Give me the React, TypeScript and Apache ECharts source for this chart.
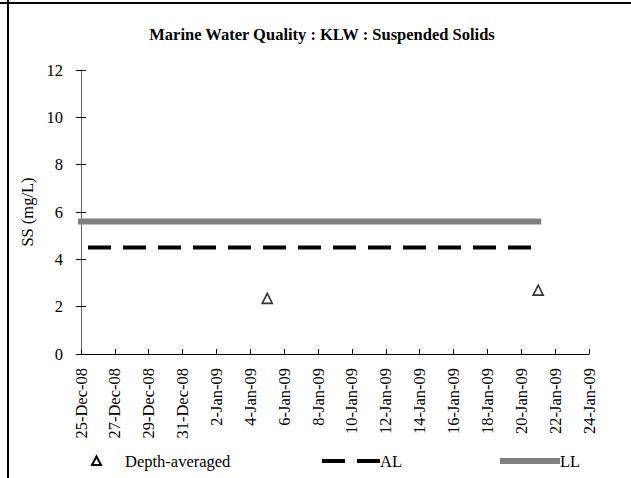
import React, { useEffect, useRef } from "react";
import * as echarts from "echarts";

const DAY = 86400000;
const titleText = "Marine Water Quality : KLW : Suspended Solids";
const yAxisName = "SS (mg/L)";
const seriesNames = ["Depth-averaged", "AL", "LL"];
const sampleDates = ["2009-01-05", "2009-01-21"];
const depthAveraged = [2.35, 2.7];
const limitDates = ["2008-12-25", "2009-01-21"];
const alValues = [4.5, 4.5];
const llValues = [5.6, 5.6];
const xStart = "2008-12-25";
const xEnd = "2009-01-24";
const yMin = 0;
const yMax = 12;
const yStep = 2;
const months = ["Jan", "Feb", "Mar", "Apr", "May", "Jun", "Jul", "Aug", "Sep", "Oct", "Nov", "Dec"];

const toMs = (s: string) => {
  const [y, m, d] = s.split("-").map(Number);
  return Date.UTC(y, m - 1, d);
};
const fmtDate = (v: number) => {
  const d = new Date(v);
  return `${d.getUTCDate()}-${months[d.getUTCMonth()]}-${String(d.getUTCFullYear() % 100).padStart(2, "0")}`;
};

const FONT = "Liberation Serif";
const FS = 16.5;

export default function App() {
  const ref = useRef<HTMLDivElement>(null);
  useEffect(() => {
    if (!ref.current) return;
    const chart = echarts.init(ref.current, null, { renderer: "svg" });
    const legendY = 461;
    const option: any = {
      animation: false,
      backgroundColor: "#fff",
      title: {
        text: titleText,
        left: 317,
        textAlign: "center",
        top: 21,
        textStyle: { fontFamily: FONT, fontSize: 16.5, fontWeight: "bold", color: "#000" },
      },
      grid: { left: 81, right: 42, top: 70, bottom: 124 },
      xAxis: {
        type: "value",
        min: toMs(xStart),
        max: toMs(xEnd),
        interval: 2 * DAY,
        splitLine: { show: false },
        axisLine: { lineStyle: { color: "#000", width: 1 } },
        axisTick: { inside: true, length: 5, lineStyle: { color: "#000" } },
        axisLabel: {
          rotate: 90,
          margin: 14,
          fontFamily: FONT,
          fontSize: FS,
          color: "#000",
          formatter: (v: number) => fmtDate(v),
        },
      },
      yAxis: [
        {
          type: "value",
          min: yMin,
          max: yMax,
          interval: yStep,
          name: yAxisName,
          nameLocation: "middle",
          nameGap: 44,
          nameTextStyle: { fontFamily: FONT, fontSize: FS, color: "#000" },
          splitLine: { show: false },
          axisLine: { show: true, lineStyle: { color: "#666", width: 1 } },
          axisTick: { show: true, inside: false, length: 5, lineStyle: { color: "#000" } },
          axisLabel: { margin: 18, fontFamily: FONT, fontSize: FS, color: "#000" },
        },
        {
          type: "value",
          position: "left",
          min: yMin,
          max: yMax,
          interval: yStep,
          splitLine: { show: false },
          axisLine: { show: false },
          axisTick: { show: true, inside: true, length: 5, lineStyle: { color: "#000" } },
          axisLabel: { show: false },
        },
      ],
      series: [
        {
          name: seriesNames[0],
          type: "scatter",
          symbol: "triangle",
          symbolSize: 10,
          itemStyle: { color: "#fff", borderColor: "#000", borderWidth: 1.6 },
          data: sampleDates.map((d, i) => [toMs(d), depthAveraged[i]]),
          z: 5,
        },
        {
          name: seriesNames[1],
          type: "line",
          symbol: "none",
          showSymbol: false,
          lineStyle: { color: "#000", width: 4, type: [23, 12], dashOffset: 28, cap: "butt" },
          data: limitDates.map((d, i) => [toMs(d), alValues[i]]),
        },
        {
          name: seriesNames[2],
          type: "line",
          symbol: "none",
          showSymbol: false,
          lineStyle: { color: "#808080", width: 6, cap: "square" },
          data: limitDates.map((d, i) => [toMs(d), llValues[i]]),
        },
      ],
      graphic: [
        { type: "line", shape: { x1: 0, y1: 3, x2: 631, y2: 3 }, style: { stroke: "#000", lineWidth: 2 } },
        { type: "line", shape: { x1: 8, y1: 0, x2: 8, y2: 478 }, style: { stroke: "#000", lineWidth: 2 } },
        {
          type: "polygon",
          shape: { points: [[92, 465], [96.5, 456.5], [101, 465]] },
          style: { fill: "#fff", stroke: "#000", lineWidth: 2 },
        },
        {
          type: "text",
          x: 125,
          y: legendY,
          style: { text: seriesNames[0], fontFamily: FONT, fontSize: FS, fill: "#000", verticalAlign: "middle" },
        },
        { type: "line", shape: { x1: 322, y1: legendY, x2: 345, y2: legendY }, style: { stroke: "#000", lineWidth: 4 } },
        { type: "line", shape: { x1: 357, y1: legendY, x2: 380, y2: legendY }, style: { stroke: "#000", lineWidth: 4 } },
        {
          type: "text",
          x: 380,
          y: legendY,
          style: { text: seriesNames[1], fontFamily: FONT, fontSize: FS, fill: "#000", verticalAlign: "middle" },
        },
        { type: "line", shape: { x1: 500, y1: legendY, x2: 560, y2: legendY }, style: { stroke: "#808080", lineWidth: 6 } },
        {
          type: "text",
          x: 560,
          y: legendY,
          style: { text: seriesNames[2], fontFamily: FONT, fontSize: FS, fill: "#000", verticalAlign: "middle" },
        },
      ],
    };
    chart.setOption(option);
    return () => chart.dispose();
  }, []);
  return (
    <div
      ref={ref}
      style={{ position: "absolute", left: 0, top: 0, width: 631, height: 478, background: "#fff" }}
    />
  );
}
